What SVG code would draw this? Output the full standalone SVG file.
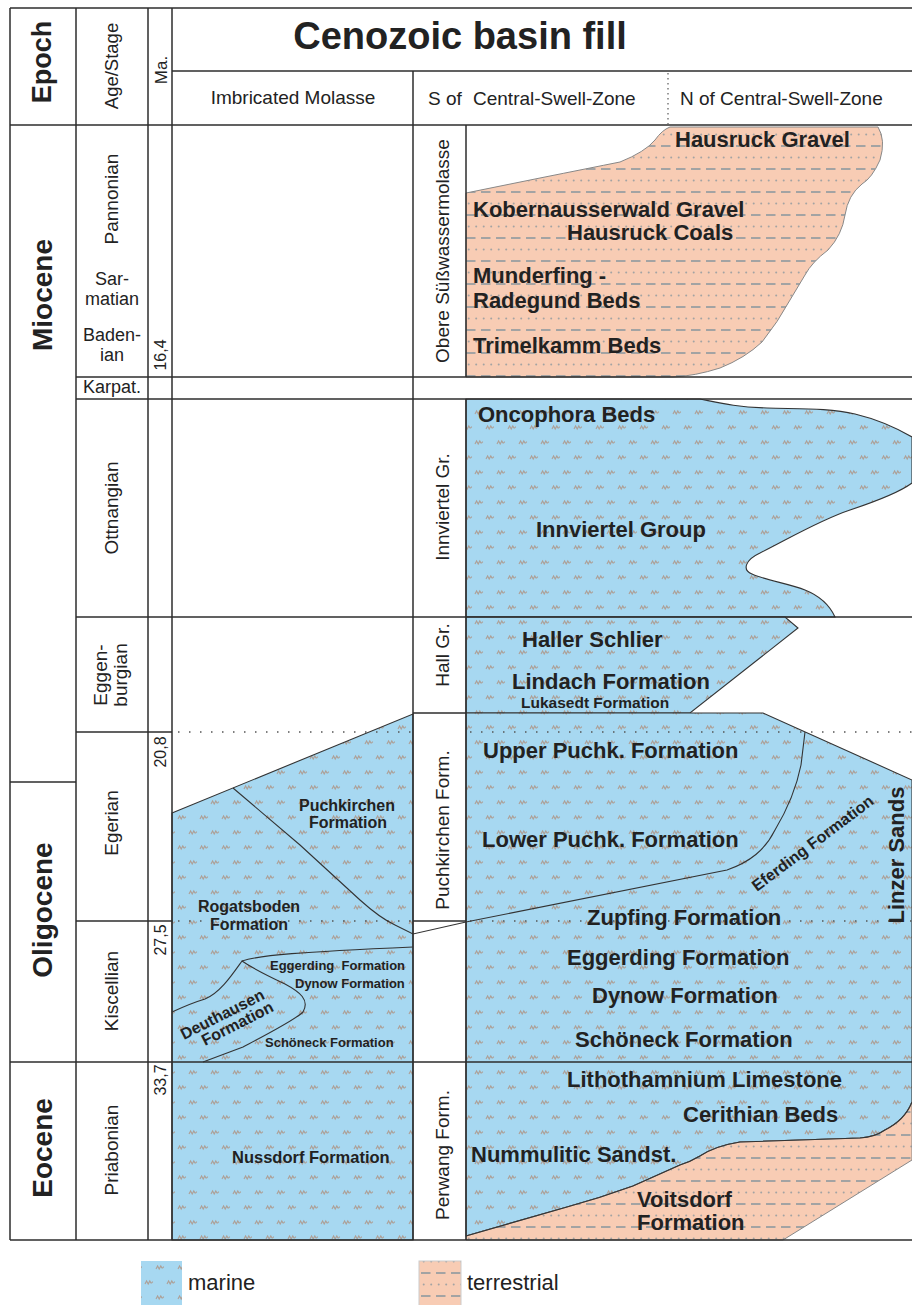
<svg xmlns="http://www.w3.org/2000/svg" width="912" height="1305" viewBox="0 0 912 1305">
<defs>
<pattern id="mar" patternUnits="userSpaceOnUse" width="22" height="30" x="0" y="0">
<rect width="22" height="30" fill="#a7d8f1"/>
<path d="M2,9 l1.6,-3 l1.6,3 l1.6,-3 l0.9,1.6 q0.6,0.8 1.2,0 l0.9,-1 M13,24 l1.6,-3 l1.6,3 l1.6,-3 l0.9,1.6 q0.6,0.8 1.2,0 l0.9,-1" fill="none" stroke="#ad9f96" stroke-width="1.1"/>
</pattern>
<pattern id="ter" patternUnits="userSpaceOnUse" width="30" height="23" x="0" y="4">
<rect width="30" height="23" fill="#f8ccb4"/>
<path d="M1,4 h9.5 M16,4 h9.5" stroke="#a3a3a3" stroke-width="2.2"/>
<g fill="#a3a3a3"><circle cx="3.7" cy="15.5" r="1"/><circle cx="11.2" cy="15.5" r="1"/><circle cx="18.7" cy="15.5" r="1"/><circle cx="26.2" cy="15.5" r="1"/></g>
</pattern>
<style>
.f{stroke:#2e2e2e;stroke-width:1.5;fill:none}
.t{stroke:#333;stroke-width:1.1}
.tg{stroke:#888;stroke-width:1}
.ln{fill:none}
.mar{fill:url(#mar)}
.ter{fill:url(#ter)}
.dt{stroke:#555;stroke-width:1.5;stroke-dasharray:1.5 9.5;fill:none}
.dv{stroke:#666;stroke-width:1.3;stroke-dasharray:1.5 3.5;fill:none}
text{font-family:'Liberation Sans',Arial,sans-serif;fill:#222}
.r{font-size:19px}
.s18{font-size:18px}
.ep{font-size:27px;font-weight:bold;text-anchor:middle}
.vm{text-anchor:middle}
.b{font-weight:bold;font-size:22px}
.bs{font-weight:bold;font-size:16px}
.bx{font-weight:bold;font-size:13px}
.ma{font-size:16px;text-anchor:middle}
</style>
</defs>
<rect width="912" height="1305" fill="#ffffff"/>

<g id="fills">
<path id="terr-upper" class="ter tg" d="M466,193 L540,178 Q590,168 620,162 Q645,152 655,140 Q662,130 670,127 L878,127 Q886,140 880,160 Q872,178 862,184 Q848,195 845,215 Q842,235 828,250 Q812,262 805,275 L790,300 Q778,322 762,342 Q745,358 720,368 Q695,376 673,377 L466,377 Z"/>
<path id="mar-innviertel" class="mar t" d="M466,399 L700,399 C720,403 735,407 767,408 C800,409 830,408 855,414 C880,420 900,430 912,437 L912,483 C900,492 880,500 850,510 C820,520 790,538 760,553 C745,560 742,570 752,574 C765,580 790,584 805,590 C820,596 830,606 835,617 L466,617 Z"/>
<path id="mar-hall" class="mar t" d="M466,617 L785,617 L798,628 L690,713 L466,713 Z"/>
<path id="mar-lower" class="mar t" d="M466,713 L763,713 L912,780 L912,1102 Q905,1120 885,1130 Q875,1137 860,1138 L740,1142 Q715,1146 700,1156 Q690,1162 680,1165 L633,1186 Q600,1198 567,1207 L466,1236 Z"/>
<path id="terr-lower" class="ter tg" d="M466,1236 L567,1207 Q600,1198 633,1186 L680,1165 Q690,1162 700,1156 Q715,1146 740,1142 L860,1138 Q875,1137 885,1130 Q905,1120 912,1102 L912,1160 L783,1240 L466,1240 Z"/>
<path id="mar-imbricated" class="mar t" d="M172,813 L413,714 L413,1240 L172,1240 Z"/>
</g>

<g id="grid">
<path class="f" d="M10,8 H912 M172,71 H912 M10,125 H912 M76,377 H912 M76,399 H912 M76,617 H912 M76,732 H172 M10,782 H76 M76,921 H172 M413,921 H466 M413,713 H466 M10,1062 H912 M10,1240 H912"/>
<path class="f" d="M10,8 V1240 M76,8 V1240 M148,8 V1240 M172,8 V1240 M413,71 V1240 M466,125 V377 M466,399 V1240"/>
<path class="dv" d="M668,73 V125"/>
<path class="dt" d="M178,732 H413 M470,732 H912 M178,921 H413 M470,921 H912"/>
</g>

<g id="boundaries">
<path class="t ln" d="M466,1236 L567,1207 Q600,1198 633,1186 L680,1165 Q690,1162 700,1156 Q715,1146 740,1142 L860,1138 Q875,1137 885,1130 Q905,1120 912,1102"/>
<path class="t ln" d="M233,788 L300,845 L360,900 Q380,918 395,925 L413,934 L466,922 L727,870 C750,862 765,850 775,830 C790,805 798,780 801,765 L805,732"/>
<path class="t ln" d="M242,961 C260,955 300,952 413,947"/>
<path class="t ln" d="M172,1012 C185,1006 195,1002 205,999 C220,993 232,975 242,961 C255,970 270,977 285,984 C300,992 310,1000 303,1012 C295,1020 260,1038 243,1047 L203,1062"/>
</g>

<g id="header">
<text transform="translate(51,62) rotate(-90)" class="ep">Epoch</text>
<text transform="translate(118,66) rotate(-90)" class="vm" style="font-size:18.5px">Age/Stage</text>
<text transform="translate(167,70) rotate(-90)" class="vm" style="font-size:17px">Ma.</text>
<text x="460" y="49" style="font-size:38px;font-weight:bold;text-anchor:middle">Cenozoic basin fill</text>
<text x="293" y="104" class="r" style="text-anchor:middle">Imbricated Molasse</text>
<text x="428" y="105" class="r">S of</text>
<text x="473" y="105" class="r">Central-Swell-Zone</text>
<text x="680" y="105" class="r">N of Central-Swell-Zone</text>
</g>

<g id="epochs">
<text transform="translate(52,295) rotate(-90)" class="ep" style="font-size:28px">Miocene</text>
<text transform="translate(52,910) rotate(-90)" class="ep" style="font-size:28px">Oligocene</text>
<text transform="translate(52,1148) rotate(-90)" class="ep" style="font-size:28px">Eocene</text>
</g>

<g id="stages">
<text transform="translate(118,199) rotate(-90)" class="r vm">Pannonian</text>
<text x="112" y="285" class="s18 vm">Sar-</text>
<text x="112" y="305" class="s18 vm">matian</text>
<text x="112" y="341" class="s18 vm">Baden-</text>
<text x="112" y="361" class="s18 vm">ian</text>
<text x="112" y="393" class="vm" style="font-size:18px">Karpat.</text>
<text transform="translate(118,508) rotate(-90)" class="r vm">Ottnangian</text>
<text transform="translate(107,675) rotate(-90)" class="r vm">Eggen-</text>
<text transform="translate(127,675) rotate(-90)" class="r vm">burgian</text>
<text transform="translate(118,823) rotate(-90)" class="r vm">Egerian</text>
<text transform="translate(118,991) rotate(-90)" class="r vm">Kiscellian</text>
<text transform="translate(118,1150) rotate(-90)" class="r vm">Priabonian</text>
<text transform="translate(166,355) rotate(-90)" class="ma">16,4</text>
<text transform="translate(166,752) rotate(-90)" class="ma">20,8</text>
<text transform="translate(166,940) rotate(-90)" class="ma">27,5</text>
<text transform="translate(166,1080) rotate(-90)" class="ma">33,7</text>
</g>

<g id="groups-s">
<text transform="translate(449,251) rotate(-90)" class="r vm">Obere Süßwassermolasse</text>
<text transform="translate(449,507) rotate(-90)" class="r vm">Innviertel Gr.</text>
<text transform="translate(449,655) rotate(-90)" class="r vm">Hall Gr.</text>
<text transform="translate(449,830) rotate(-90)" class="r vm">Puchkirchen Form.</text>
<text transform="translate(449,1155) rotate(-90)" class="r vm">Perwang Form.</text>
</g>

<g id="formations-ns">
<text x="675" y="147" class="b">Hausruck Gravel</text>
<text x="473" y="217" class="b">Kobernausserwald Gravel</text>
<text x="567" y="240" class="b">Hausruck Coals</text>
<text x="473" y="283" class="b">Munderfing -</text>
<text x="473" y="308" class="b">Radegund Beds</text>
<text x="473" y="353" class="b">Trimelkamm Beds</text>
<text x="478" y="422" class="b">Oncophora Beds</text>
<text x="536" y="537" class="b">Innviertel Group</text>
<text x="522" y="647" class="b">Haller Schlier</text>
<text x="512" y="689" class="b">Lindach Formation</text>
<text x="521" y="708" class="b" style="font-size:15.5px">Lukasedt Formation</text>
<text x="483" y="758" class="b">Upper Puchk. Formation</text>
<text x="482" y="847" class="b">Lower Puchk. Formation</text>
<text transform="translate(757,892) rotate(-37)" class="bs">Eferding Formation</text>
<text transform="translate(904,855) rotate(-90)" class="b vm">Linzer Sands</text>
<text x="587" y="925" class="b">Zupfing Formation</text>
<text x="567" y="965" class="b">Eggerding Formation</text>
<text x="592" y="1003" class="b">Dynow Formation</text>
<text x="575" y="1047" class="b">Schöneck Formation</text>
<text x="567" y="1087" class="b">Lithothamnium Limestone</text>
<text x="683" y="1122" class="b">Cerithian Beds</text>
<text x="471" y="1162" class="b">Nummulitic Sandst.</text>
<text x="637" y="1207" class="b">Voitsdorf</text>
<text x="637" y="1230" class="b">Formation</text>
</g>

<g id="formations-imbricated">
<text x="347" y="811" class="bs vm">Puchkirchen</text>
<text x="348" y="828" class="bs vm">Formation</text>
<text x="249" y="912" class="bs vm">Rogatsboden</text>
<text x="249" y="930" class="bs vm">Formation</text>
<text x="270" y="970" class="bx" xml:space="preserve">Eggerding  Formation</text>
<text x="295" y="988" class="bx">Dynow Formation</text>
<text x="265" y="1047" class="bx">Schöneck Formation</text>
<g transform="translate(184,1040) rotate(-27)">
<text x="0" y="0" class="bs">Deuthausen</text>
<text x="16" y="15" class="bs">Formation</text>
</g>
<text x="232" y="1163" class="bs" style="font-size:16.5px">Nussdorf Formation</text>
</g>

<g id="legend">
<g id="legend-marine">
<rect x="141" y="1261" width="41" height="50" fill="url(#mar)"/>
<text x="188" y="1290" style="font-size:22px">marine</text>
</g>
<g id="legend-terrestrial">
<rect x="419" y="1261" width="42" height="50" fill="url(#ter)" stroke="#cccccc" stroke-width="1"/>
<text x="467" y="1290" style="font-size:22px">terrestrial</text>
</g>
</g>
</svg>
